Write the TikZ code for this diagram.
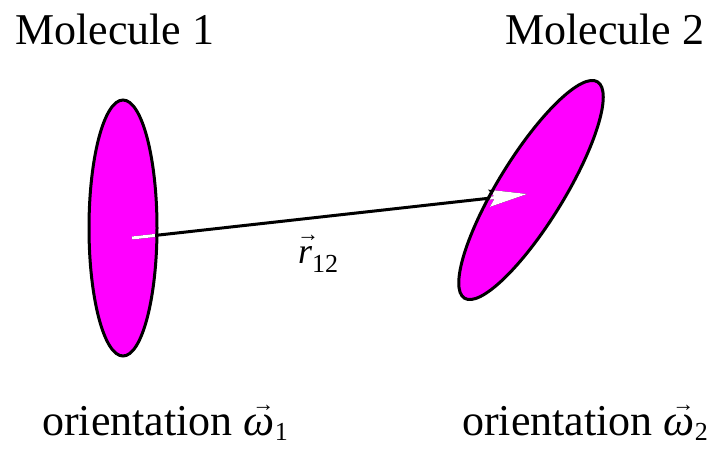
\documentclass[tikz,border=0pt]{standalone}
\usepackage{fontspec}
\setmainfont{LiberationSerif}[Extension=.ttf,UprightFont=*-Regular,ItalicFont=*-Italic,BoldFont=*-Bold,BoldItalicFont=*-BoldItalic]
\usetikzlibrary{shapes.geometric,arrows.meta}
\definecolor{mol}{HTML}{FF00FF}
% #1 symbol, #2 subscript, #3 arrow raise, #4 arrow size, #5 subscript drop, #6 subscript size, #7 arrow shift
\newcommand{\vecsym}[7]{{\setbox0\hbox{\itshape #1}%
  \rlap{\hspace*{#7}\raisebox{#3}{\hbox to \wd0{\hss\fontsize{#4}{#4}\selectfont →\hss}}}\box0}%
  \raisebox{-#5}{\fontsize{#6}{#6}\selectfont #2}}
\begin{document}
\begin{tikzpicture}[x=1pt,y=-1pt,
  lbl/.style={anchor=base west,inner sep=0pt,font=\rmfamily\fontsize{44}{50}\selectfont},
  molshape/.style={ellipse,draw=black,line width=3pt,fill=mol,inner sep=0pt},
  vecarrow/.style={line width=3pt,-{Stealth[length=38pt,width=17pt,inset=6pt]}}]
\useasboundingbox (0,0) rectangle (717,448);
% texts
\node[lbl] (t1) at (15,44) {Molecule 1};
\node[lbl] (t2) at (505,44) {Molecule 2};
\node[lbl] (o1) at (42,435) {orientation \vecsym{ω}{1}{24pt}{22}{5pt}{26}{4pt}};
\node[lbl] (o2) at (462,435) {orientation \vecsym{ω}{2}{24pt}{22}{5pt}{26}{4pt}};
% molecules
\node[molshape,minimum width=68pt,minimum height=256pt] (m1) at (123,228) {};
\node[molshape,minimum width=254pt,minimum height=66pt,rotate=58.4] (m2) at (531,190) {};
% separation vector
\coordinate (s) at (132,238);
\coordinate (e) at (527,194);
\draw[vecarrow] (s) -- (e);
\begin{scope}
  \clip (123,228) ellipse [x radius=32, y radius=126];
  \draw[vecarrow,white] (s) -- (e);
\end{scope}
\begin{scope}
  \clip[rotate around={58.4:(531,190)}] (531,190) ellipse [x radius=125, y radius=31];
  \draw[vecarrow,white] (s) -- (e);
\end{scope}
\node[anchor=base west,inner sep=0pt,font=\rmfamily\fontsize{36}{40}\selectfont] (r) at (298,263)
  {\vecsym{r}{12}{22pt}{22}{9pt}{26}{3pt}};
\end{tikzpicture}
\end{document}
